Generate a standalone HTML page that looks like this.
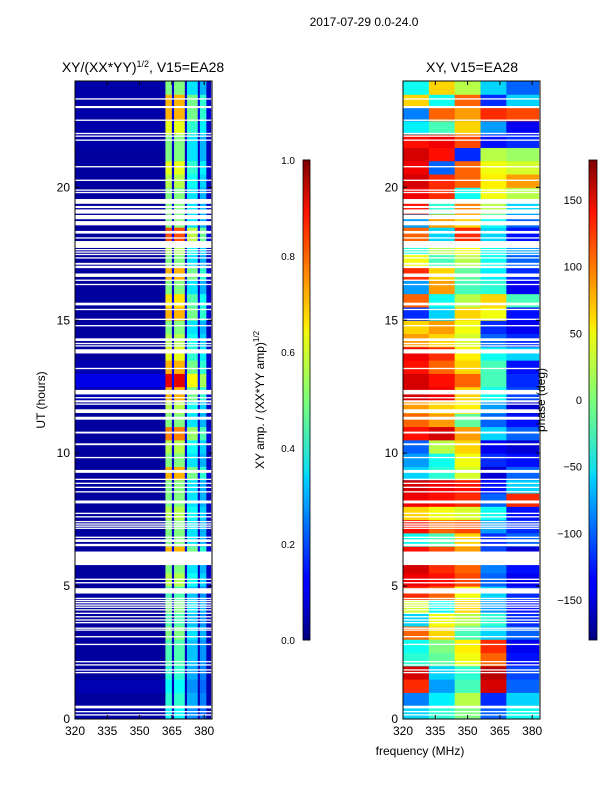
<!DOCTYPE html>
<html><head><meta charset="utf-8"><style>
html,body{margin:0;padding:0;background:#fff;}
svg{display:block;font-family:"Liberation Sans",sans-serif;}
</style></head><body>
<svg id="fig" width="600" height="800" viewBox="0 0 600 800">
<defs>
<linearGradient id="jet" x1="0" y1="1" x2="0" y2="0">
<stop offset="0" stop-color="#00007f"/><stop offset="0.11" stop-color="#0000ff"/><stop offset="0.125" stop-color="#0000ff"/>
<stop offset="0.34" stop-color="#00d4ff"/><stop offset="0.35" stop-color="#0ddcf0"/><stop offset="0.5" stop-color="#7dff7a"/>
<stop offset="0.64" stop-color="#f0f90f"/><stop offset="0.66" stop-color="#ffe600"/><stop offset="0.89" stop-color="#ff1300"/>
<stop offset="1" stop-color="#7f0000"/>
</linearGradient>
<clipPath id="c1"><rect x="75" y="81" width="137" height="638"/></clipPath>
<clipPath id="c2"><rect x="403" y="81" width="137" height="638"/></clipPath>
</defs>
<text x="364" y="26" font-size="12" text-anchor="middle">2017-07-29 0.0-24.0</text>
<text x="143" y="72" font-size="14" text-anchor="middle">XY/(XX*YY)<tspan dy="-5" font-size="9">1/2</tspan><tspan dy="5">, V15=EA28</tspan></text>
<text x="472" y="72" font-size="14" text-anchor="middle">XY, V15=EA28</text>
<g id="p1" clip-path="url(#c1)"></g>
<g id="p2" clip-path="url(#c2)"></g>
<g id="axes"></g>
<rect x="303" y="160" width="7" height="480" fill="url(#jet)" stroke="#000" stroke-width="0.8"/>
<rect x="589" y="160" width="8" height="480" fill="url(#jet)" stroke="#000" stroke-width="0.8"/>
<text transform="translate(264,400) rotate(-90)" font-size="12" text-anchor="middle">XY amp. / (XX*YY amp)<tspan dy="-5" font-size="8">1/2</tspan></text>
<text transform="translate(545,400) rotate(-90)" font-size="12" text-anchor="middle">phase (deg)</text>
<text transform="translate(45,400) rotate(-90)" font-size="12" text-anchor="middle">UT (hours)</text>
<text x="420" y="755" font-size="12" text-anchor="middle">frequency (MHz)</text>
</svg>
<script>
const xTicks=[320,335,350,365,380];
const yTicks=[0,5,10,15,20];
const ampTicks=[0.0,0.2,0.4,0.6,0.8,1.0];
const phaseTicks=[-150,-100,-50,0,50,100,150];
const stripeEdges=[320,362,365,366,371,372,377,378,381,383];
const stripeGain=[0,1.0,0.15,1.0,0.15,0.7,0.15,0.6,0.12];
const ampRows=[0.38,0.42,0.38,0.42,0.45,0.45,0.5,0.45,0.5,0.45,0.55,0.5,0.7,0.5,0.5,0.55,0.5,0.5,0.7,0.5,0.55,0.75,0.5,0.55,0.7,0.9,0.7,0.6,0.55,0.5,0.7,0.65,0.5,0.7,0.5,0.55,0.8,0.5,0.5,0.5,0.55,0.6,0.5,0.5,0.6,0.7,0.7,0.5];
const bgRows=[0.04,0.03,0.05,0.03,0.03,0.03,0.03,0.03,0.03,0.03,0.03,0.03,0.03,0.03,0.03,0.03,0.03,0.03,0.03,0.03,0.03,0.03,0.03,0.03,0.05,0.1,0.05,0.03,0.03,0.03,0.03,0.03,0.03,0.03,0.03,0.03,0.03,0.03,0.03,0.03,0.03,0.03,0.03,0.04,0.04,0.04,0.04,0.04];
const phaseEdges=[320,332,344,356,368,383];
const phaseRows=[[-60,-30,0,-100,-40],[-90,-50,20,-120,-60],[120,-80,-20,150,-100],[150,-60,-30,160,-110],[-30,-10,40,100,-130],[-40,0,50,120,-140],[100,60,-20,-60,-100],[-60,40,20,-30,-120],[30,-40,60,-80,-130],[120,100,40,-60,-120],[140,130,110,-100,-140],[150,120,100,-90,-130],[130,110,80,-110,-150],[-40,-20,60,-120,-100],[130,100,110,-80,-120],[60,40,30,-40,-130],[140,130,120,-100,120],[150,140,130,-130,-60],[-60,-30,30,-150,-100],[-80,-40,40,-120,-130],[-100,20,60,-140,-150],[130,150,80,-60,-100],[100,80,-10,-100,-130],[80,60,50,-80,-150],[150,140,60,-40,-110],[150,130,100,-20,-120],[130,100,60,-20,-130],[140,120,50,-40,-60],[80,60,30,-100,-120],[60,80,40,-120,-140],[-120,-60,60,40,-130],[100,-40,20,60,-20],[-80,80,-20,-30,-140],[120,60,-10,-50,-120],[40,-20,20,-40,-100],[-30,20,40,-40,-80],[100,-60,120,-60,-130],[-80,80,60,-40,-100],[130,-30,90,20,-60],[140,120,-40,40,20],[150,120,100,50,80],[140,-100,100,40,30],[150,130,-120,20,10],[130,140,110,-130,-120],[-50,-20,60,-80,-140],[-90,100,80,120,110],[60,-40,100,-120,-60],[-40,60,20,-60,-100]];
const gapStarts=[23.30,22.98,22.50,22.00,21.90,21.75,20.75,20.24,19.87,19.78,19.38,19.22,19.01,18.80,18.57,18.26,18.07,17.72,17.63,17.54,17.45,17.32,17.09,16.96,16.63,16.48,16.32,15.56,15.38,15.01,14.77,14.22,14.10,14.01,13.75,13.16,12.21,12.06,11.94,11.91,11.82,11.51,11.26,10.74,10.30,9.81,9.26,8.99,8.84,8.69,8.52,8.11,7.71,7.58,7.40,7.31,7.23,7.15,6.81,6.66,6.50,5.79,5.23,5.10,4.72,4.51,4.43,4.35,4.26,4.18,4.08,3.95,3.82,3.70,3.60,3.39,3.32,3.07,2.78,2.13,2.01,1.82,1.72,0.40,0.25,0.13];
const gapEnds=[23.35,23.06,22.55,22.05,21.95,21.80,20.80,20.29,19.92,19.83,19.56,19.30,19.17,18.96,18.73,18.36,18.12,17.98,17.68,17.59,17.50,17.37,17.16,17.05,16.76,16.53,16.37,15.66,15.43,15.06,14.82,14.32,14.15,14.06,13.91,13.21,12.38,12.11,11.99,11.96,11.87,11.65,11.37,10.81,10.37,9.86,9.37,9.04,8.89,8.74,8.57,8.22,7.76,7.63,7.45,7.36,7.28,7.20,6.86,6.76,6.59,6.30,5.28,5.15,4.92,4.56,4.48,4.40,4.31,4.23,4.13,4.00,3.87,3.75,3.65,3.44,3.37,3.12,2.83,2.18,2.06,1.87,1.77,0.50,0.30,0.18];

const NS='http://www.w3.org/2000/svg';
const Y0=719,Y1=81,H=24;
function yS(h){return Y0-(h/H)*(Y0-Y1);}
function xS(f,x0){return x0+(f-320)*(32.3/15);}
function jet(v){v=Math.max(0,Math.min(1,v));
 const r=Math.max(0,Math.min(1,1.5-Math.abs(4*v-3))),g=Math.max(0,Math.min(1,1.5-Math.abs(4*v-2))),b=Math.max(0,Math.min(1,1.5-Math.abs(4*v-1)));
 return 'rgb('+Math.round(r*255)+','+Math.round(g*255)+','+Math.round(b*255)+')';}
function mk(tag,attrs,parent){const e=document.createElementNS(NS,tag);for(const k in attrs)e.setAttribute(k,attrs[k]);parent.appendChild(e);return e;}
const p1=document.getElementById('p1'),p2=document.getElementById('p2'),ax=document.getElementById('axes');
const rowH=H/ampRows.length;
for(let i=0;i<ampRows.length;i++){
 const yt=yS((i+1)*rowH),yb=yS(i*rowH);
 for(let j=0;j<stripeGain.length;j++){
  const v=j===0?bgRows[i]:Math.max(0.03,stripeGain[j]*ampRows[i]);
  const x0=xS(stripeEdges[j],75),x1=xS(stripeEdges[j+1],75);
  const r=mk('rect',{x:x0,y:yt,width:x1-x0+0.5,height:yb-yt+0.5,fill:jet(v)},p1);
  
  
 }
}
const pRowH=H/phaseRows.length;
for(let i=0;i<phaseRows.length;i++){
 const yt=yS((i+1)*pRowH),yb=yS(i*pRowH);
 for(let j=0;j<phaseRows[i].length;j++){
  const x0=xS(phaseEdges[j],403),x1=xS(phaseEdges[j+1],403);
  const r=mk('rect',{x:x0,y:yt,width:x1-x0+0.5,height:yb-yt+0.5,fill:jet((phaseRows[i][j]+180)/360)},p2);
  
  
 }
}
for(let k=0;k<gapStarts.length;k++){
 [[p1,75],[p2,403]].forEach(([g,x0])=>{
  const yt=yS(gapEnds[k]),yb=yS(gapStarts[k]);
  const r=mk('rect',{x:x0,y:yt,width:137,height:Math.max(1.2,yb-yt),fill:'#fff'},g);
  
  
 });
}
[75,403].forEach((x0,pi)=>{
 const f=mk('rect',{x:x0,y:Y1,width:137,height:Y0-Y1,fill:'none',stroke:'#000','stroke-width':1},ax);
 
 
 xTicks.forEach(t=>{const x=xS(t,x0);
  mk('line',{x1:x,x2:x,y1:Y0,y2:Y0-4,stroke:'#000'},ax);mk('line',{x1:x,x2:x,y1:Y1,y2:Y1+4,stroke:'#000'},ax);
  const tx=mk('text',{x:x,y:Y0+16,'font-size':12,'text-anchor':'middle'},ax);tx.textContent=t;
  
  });
 yTicks.forEach(t=>{const y=yS(t);
  mk('line',{x1:x0,x2:x0+4,y1:y,y2:y,stroke:'#000'},ax);mk('line',{x1:x0+133,x2:x0+137,y1:y,y2:y,stroke:'#000'},ax);
  const tx=mk('text',{x:x0-5,y:y+4,'font-size':12,'text-anchor':'end'},ax);tx.textContent=t;
  
  });
});
ampTicks.forEach(t=>{const y=640-t*480;
 mk('line',{x1:303,x2:306,y1:y,y2:y,stroke:'#000'},ax);mk('line',{x1:307,x2:310,y1:y,y2:y,stroke:'#000'},ax);
 const tx=mk('text',{x:295,y:y+4,'font-size':10,'text-anchor':'end'},ax);tx.textContent=t.toFixed(1);
 
 });
phaseTicks.forEach(t=>{const y=640-(t+180)/360*480;
 mk('line',{x1:589,x2:592,y1:y,y2:y,stroke:'#000'},ax);mk('line',{x1:594,x2:597,y1:y,y2:y,stroke:'#000'},ax);
 const tx=mk('text',{x:582,y:y+4,'font-size':11,'text-anchor':'end'},ax);tx.textContent=String(t).replace('-','\u2212');
 
 });
</script>
</body></html>
